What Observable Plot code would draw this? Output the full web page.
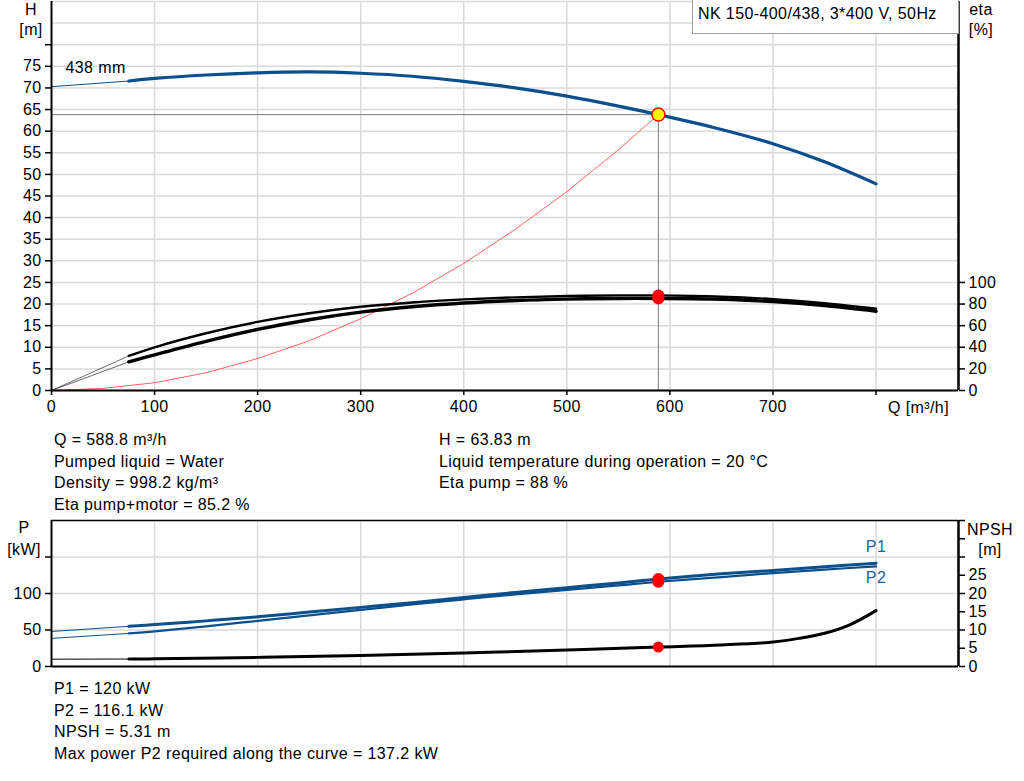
<!DOCTYPE html>
<html><head><meta charset="utf-8">
<script src="https://cdn.jsdelivr.net/npm/d3@7"></script>
<script src="https://cdn.jsdelivr.net/npm/@observablehq/plot@0.6"></script>
<style>
body{margin:0;background:#fff;font-family:"Liberation Sans",Arial,sans-serif;}
#wrap{position:relative;width:1024px;height:781px;overflow:hidden;background:#fff;}
.abs{position:absolute;font-size:16px;letter-spacing:0.4px;line-height:20px;color:#000;white-space:nowrap;}
.c{text-align:center;width:60px;}
.txt{position:absolute;font-size:16px;letter-spacing:0.4px;line-height:21.5px;color:#000;white-space:nowrap;}
#title{position:absolute;left:692px;top:-1px;width:260px;height:33px;border:1px solid #a0a0a0;background:#fff;font-size:16px;letter-spacing:0.4px;line-height:28px;padding-left:5px;box-sizing:content-box;white-space:nowrap;}
svg{position:absolute;left:0;}
</style></head><body><div id="wrap"></div>
<script>
// ---------- data ----------
const dutyQ = 588.8;
const dutyH = 63.83;
const dutyEta = [88, 85.2];          // eta pump, eta pump+motor
const dutyP = [120, 116.1];          // P1, P2
const dutyNPSH = 5.31;

const qH   = [0, 75, 100, 150, 200, 250, 300, 350, 400, 450, 500, 550, 588.8, 650, 700, 750, 800];
const head = [70.3, 71.6, 72.2, 73.0, 73.5, 73.7, 73.4, 72.7, 71.5, 70.0, 68.1, 65.8, 63.83, 60.4, 57.1, 52.9, 47.8];

const qSys = [0, 50, 100, 150, 200, 250, 300, 350, 400, 450, 500, 550, 588.8];
const hSys = [0, 0.5, 1.8, 4.1, 7.4, 11.5, 16.6, 22.5, 29.4, 37.3, 46.0, 55.7, 63.83];

const qEta      = [0, 75, 100, 150, 200, 250, 300, 350, 400, 450, 500, 550, 588.8, 650, 700, 750, 800];
const etaPump   = [0, 32, 40, 53, 63.5, 71.5, 77.5, 81.5, 84.3, 86.2, 87.4, 88, 88, 86.8, 84.5, 80.8, 75.7];
const etaTotal  = [0, 26.5, 33, 45.5, 56.5, 65.5, 72.5, 77.5, 81, 83.3, 84.6, 85.2, 85.2, 84.5, 82.2, 78.5, 73.4];

const qP = [0, 75, 100, 150, 200, 250, 300, 350, 400, 450, 500, 550, 588.8, 650, 700, 750, 800];
const p1 = [48, 55, 57.5, 62.5, 68, 74.5, 81, 87.5, 94.5, 101.5, 108, 114.5, 120, 127, 131.5, 136.5, 141.5];
const p2 = [38.5, 45.3, 48, 55, 62.5, 70, 77.5, 85, 92, 98.8, 105, 111, 116.1, 122.5, 128, 132.8, 137.2];

const qN   = [0, 75, 100, 200, 300, 400, 500, 588.8, 650, 700, 725, 750, 775, 800];
const npsh = [2.0, 2.05, 2.1, 2.5, 3.0, 3.7, 4.5, 5.31, 5.9, 6.7, 7.7, 9.1, 11.5, 15.3];

const qTicks    = [0, 100, 200, 300, 400, 500, 600, 700, 800];
const hTicks    = [0, 5, 10, 15, 20, 25, 30, 35, 40, 45, 50, 55, 60, 65, 70, 75, 80];
const hGrid     = [0, 5, 10, 15, 20, 25, 30, 35, 40, 45, 50, 55, 60, 65, 70, 75, 80, 85, 90];
const etaTicks  = [0, 20, 40, 60, 80, 100];
const pTicks    = [0, 50, 100, 150];
const npshTicks = [0, 5, 10, 15, 20, 25, 30, 35, 40];

const xMax = 880, hMax = 90, pMax = 200;
const etaToH = 0.25;   // 100 % drawn at 25 m
const npshToP = 5;     // 40 m drawn at 200 kW

// ---------- build ----------
const font = "'Liberation Sans', Arial, sans-serif";
const blue = "#0b4f8c";
const grid = "#dadada";
const rows = (xs, ys) => xs.map((q, i) => ({q, v: ys[i]}));

const H = rows(qH, head);
const SYS = rows(qSys, hSys);
const E1 = rows(qEta, etaPump), E2 = rows(qEta, etaTotal);
const P1 = rows(qP, p1), P2 = rows(qP, p2);
const N = rows(qN, npsh);

const style = {fontFamily: font, fontSize: "16px", letterSpacing: "0.4px", color: "#000", background: "transparent", overflow: "visible"};
const axisOpts = {tickSize: 6, tickPadding: 4, strokeWidth: 1.5, stroke: "#000", label: null, fontSize: 16, fill: "#000"};
const smooth = "catmull-rom";

const topPlot = Plot.plot({
  width: 1024, height: 425, marginLeft: 51, marginRight: 66, marginTop: 1, marginBottom: 35,
  x: {domain: [0, xMax]}, y: {domain: [0, hMax]},
  style,
  marks: [
    Plot.ruleY(hGrid, {stroke: grid, strokeWidth: 1.5}),
    Plot.ruleX(qTicks.slice(1), {stroke: grid, strokeWidth: 1.5}),
    Plot.ruleY([dutyH], {x1: 0, x2: dutyQ, stroke: "#7a7a7a", strokeWidth: 1}),
    Plot.ruleX([dutyQ], {y1: 0, y2: dutyH, stroke: "#7a7a7a", strokeWidth: 1}),
    Plot.line(SYS, {x: "q", y: "v", stroke: "#ff3b3b", strokeWidth: 0.8}),
    // eta curves
    Plot.line(E1.slice(0, 2), {x: "q", y: d => d.v * etaToH, stroke: "#444", strokeWidth: 0.8}),
    Plot.line(E2.slice(0, 2), {x: "q", y: d => d.v * etaToH, stroke: "#444", strokeWidth: 0.8}),
    Plot.line(E1.slice(1), {x: "q", y: d => d.v * etaToH, stroke: "#000", strokeWidth: 2.4, curve: smooth}),
    Plot.line(E2.slice(1), {x: "q", y: d => d.v * etaToH, stroke: "#000", strokeWidth: 3.4, curve: smooth}),
    // head curve
    Plot.line(H.slice(0, 2), {x: "q", y: "v", stroke: blue, strokeWidth: 1}),
    Plot.line(H.slice(1), {x: "q", y: "v", stroke: blue, strokeWidth: 3.2, curve: smooth}),
    Plot.text(H.slice(0, 1), {x: "q", y: "v", text: () => "438 mm", dx: 14, dy: -19, textAnchor: "start", fontSize: 16, fill: "#000"}),
    // duty points
    Plot.dot(dutyEta, {x: () => dutyQ, y: d => d * etaToH, r: 6, fill: "#ff0000", stroke: "none"}),
    Plot.dot([dutyH], {x: () => dutyQ, y: d => d, r: 6.5, fill: "#ffff00", stroke: "#ff0000", strokeWidth: 1.5}),
    // frame
    Plot.ruleX([0], {stroke: "#000", strokeWidth: 2}),
    Plot.ruleX([xMax], {stroke: "#000", strokeWidth: 2.5}),
    Plot.ruleY([0], {stroke: "#000", strokeWidth: 2}),
    // axes
    Plot.axisY(hTicks, {...axisOpts, anchor: "left", tickFormat: d => d <= 75 ? d : ""}),
    Plot.axisY(etaTicks.map(e => e * etaToH), {...axisOpts, anchor: "right", tickFormat: d => Math.round(d / etaToH)}),
    Plot.axisX(qTicks, {...axisOpts, anchor: "bottom", tickSize: 5, tickPadding: 5, tickFormat: d => d < 800 ? d : ""})
  ]
});
topPlot.style.top = "0px";

const botPlot = Plot.plot({
  width: 1024, height: 175, marginLeft: 51, marginRight: 66, marginTop: 15, marginBottom: 14,
  x: {domain: [0, xMax], axis: null}, y: {domain: [0, pMax]},
  style,
  marks: [
    Plot.ruleY([50, 100, 150], {stroke: grid, strokeWidth: 1.5}),
    Plot.ruleX(qTicks.slice(1), {stroke: grid, strokeWidth: 1.5}),
    // NPSH
    Plot.line(N.slice(0, 2), {x: "q", y: d => d.v * npshToP, stroke: "#000", strokeWidth: 1}),
    Plot.line(N.slice(1), {x: "q", y: d => d.v * npshToP, stroke: "#000", strokeWidth: 3, curve: smooth}),
    // P curves
    Plot.line(P1.slice(0, 2), {x: "q", y: "v", stroke: blue, strokeWidth: 1}),
    Plot.line(P2.slice(0, 2), {x: "q", y: "v", stroke: blue, strokeWidth: 1}),
    Plot.line(P2.slice(1), {x: "q", y: "v", stroke: blue, strokeWidth: 2.2, curve: smooth}),
    Plot.line(P1.slice(1), {x: "q", y: "v", stroke: blue, strokeWidth: 3, curve: smooth}),
    Plot.text(P1.slice(-1), {x: "q", y: "v", text: () => "P1", dy: -16, fill: "#1f5f9e", fontSize: 16}),
    Plot.text(P2.slice(-1), {x: "q", y: "v", text: () => "P2", dy: 12, fill: "#1f5f9e", fontSize: 16}),
    // duty points
    Plot.dot(dutyP, {x: () => dutyQ, y: d => d, r: 6, fill: "#ff0000"}),
    Plot.dot([dutyNPSH], {x: () => dutyQ, y: d => d * npshToP, r: 5.5, fill: "#ff0000"}),
    // frame
    Plot.ruleX([0], {stroke: "#000", strokeWidth: 2}),
    Plot.ruleX([xMax], {stroke: "#000", strokeWidth: 2.5}),
    Plot.ruleY([0], {stroke: "#000", strokeWidth: 2}),
    Plot.ruleY([pMax], {stroke: "#000", strokeWidth: 1.5}),
    // axes
    Plot.axisY(pTicks, {...axisOpts, anchor: "left", tickFormat: d => d <= 100 ? d : ""}),
    Plot.axisY(npshTicks.map(n => n * npshToP), {...axisOpts, anchor: "right", tickFormat: d => (d / npshToP) <= 25 ? Math.round(d / npshToP) : ""})
  ]
});
botPlot.style.top = "505px";

const wrap = document.getElementById("wrap");
wrap.appendChild(topPlot);
wrap.appendChild(botPlot);

function addDiv(html, cls, left, top) {
  const d = document.createElement("div");
  d.className = cls;
  d.innerHTML = html;
  d.style.left = left + "px";
  d.style.top = top + "px";
  wrap.appendChild(d);
  return d;
}
// axis titles
addDiv("H", "abs c", 1, 0);
addDiv("[m]", "abs c", 1, 20);
addDiv("eta", "abs c", 951, 0);
addDiv("[%]", "abs c", 951, 20);
addDiv("Q [m³/h]", "abs", 888, 398);
addDiv("P", "abs c", -6, 518);
addDiv("[kW]", "abs c", -6, 540);
addDiv("NPSH", "abs c", 960, 520);
addDiv("[m]", "abs c", 960, 540);
// title box
const t = document.createElement("div");
t.id = "title";
t.textContent = "NK 150-400/438, 3*400 V, 50Hz";
wrap.appendChild(t);

// info text
const infoLeft = ["Q = 588.8 m³/h", "Pumped liquid = Water", "Density = 998.2 kg/m³", "Eta pump+motor = 85.2 %"];
const infoRight = ["H = 63.83 m", "Liquid temperature during operation = 20 °C", "Eta pump = 88 %"];
const infoBottom = ["P1 = 120 kW", "P2 = 116.1 kW", "NPSH = 5.31 m", "Max power P2 required along the curve = 137.2 kW"];
addDiv(infoLeft.join("<br>"), "txt", 54, 429);
addDiv(infoRight.join("<br>"), "txt", 439, 429);
addDiv(infoBottom.join("<br>"), "txt", 54, 678);
</script>
</body></html>
